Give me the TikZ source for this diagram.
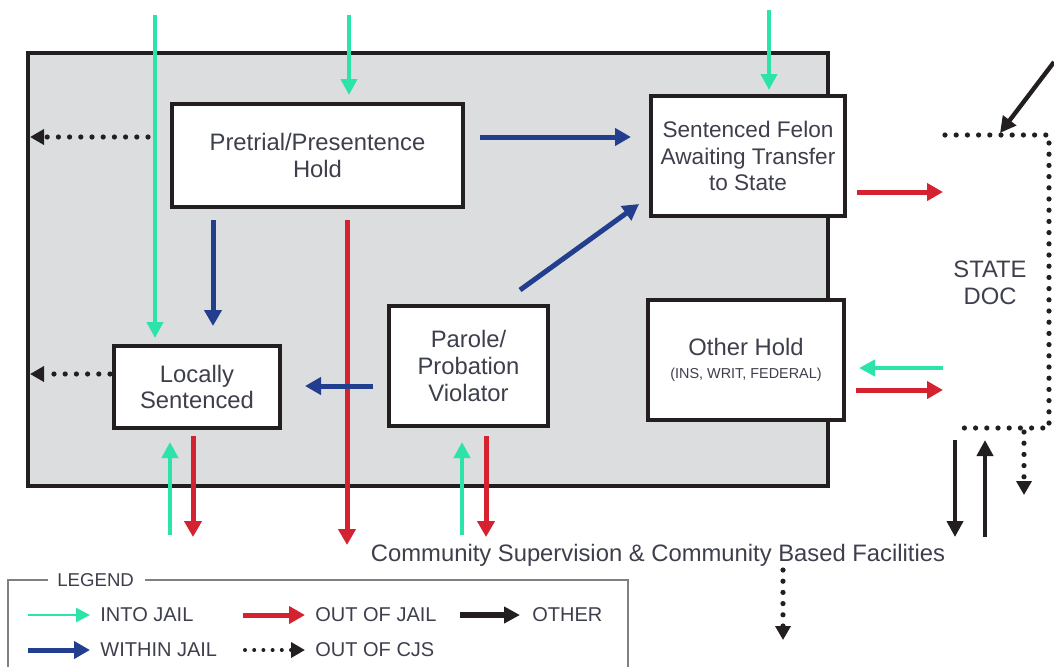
\documentclass[tikz,border=0pt]{standalone}
\usepackage{fontspec}
\setmainfont{Liberation Sans}
\usetikzlibrary{arrows.meta,calc,positioning}
\definecolor{jailgray}{HTML}{DCDDDF}
\definecolor{txtgray}{HTML}{3E3F4C}
\definecolor{cjgreen}{HTML}{2CE3A9}
\definecolor{cjred}{HTML}{D52230}
\definecolor{cjblue}{HTML}{213F8E}
\definecolor{cjblack}{HTML}{231F20}
\begin{document}
\begin{tikzpicture}[x=0.5pt,y=-0.5pt,
                    font=\fontsize{11.9}{13.4}\selectfont,
                    stage/.style={rectangle,draw=cjblack,fill=white,line width=2pt,align=center,text=txtgray,inner sep=0pt},
                    into/.style={draw=cjgreen,line width=2pt,-{Triangle[length=8pt,width=8pt]}},
                    outof/.style={draw=cjred,line width=2.5pt,-{Triangle[length=8pt,width=8.5pt]}},
                    within/.style={draw=cjblue,line width=2.5pt,-{Triangle[length=8pt,width=8.5pt]}},
                    otherflow/.style={draw=cjblack,line width=2.2pt,-{Triangle[length=8pt,width=8pt]}},
                    exitcjs/.style={draw=cjblack,line width=2.6pt,line cap=round,dash pattern=on 0pt off 5.6pt,
                                    -{Triangle[length=7pt,width=7.5pt,fill=cjblack]}},
                    legtext/.style={text=txtgray,font=\fontsize{10}{11}\selectfont,anchor=west,inner sep=0pt}]
\useasboundingbox (0,0) rectangle (1054,666);

% jail and its stages
\node[rectangle,draw=cjblack,fill=jailgray,line width=2pt,minimum width=400pt,minimum height=216.5pt] (jail) at (428,269.5) {};
\node[stage,minimum width=145.5pt,minimum height=51.5pt] (pre) at (317.5,155.5) {Pretrial/Presentence\\Hold};
\node[stage,minimum width=97pt,minimum height=60pt,font=\fontsize{11.3}{13.2}\selectfont] (felon) at (748,156) {Sentenced Felon\\Awaiting Transfer\\to State};
\node[stage,minimum width=83pt,minimum height=41pt] (local) at (197,387) {Locally\\Sentenced};
\node[stage,minimum width=79.5pt,minimum height=60pt] (parole) at (468.5,366) {Parole/\\Probation\\Violator};
\node[stage,minimum width=98pt,minimum height=60pt] (other) at (746,360) {Other Hold\\[-2pt]{\fontsize{7.2}{8}\selectfont(INS, WRIT, FEDERAL)}};

\node[text=txtgray,align=center] (doc) at (990,283) {STATE\\DOC};
\node[text=txtgray] (comm) at (658,555) {Community Supervision \& Community Based Facilities};

% state doc frame
\draw[exitcjs,-] (945,135) -- (1049,135) -- (1049,428) -- (955,428);

% free ends
\coordinate (inLocal) at (155,15);
\coordinate (inPre) at (349,15);
\coordinate (inFelon) at (769,10);
\coordinate (inOther) at (943,368);
\coordinate (upLocal) at (170,535);
\coordinate (upParole) at (462,535);
\coordinate (outFelon) at (943,192);
\coordinate (outOther) at (943,390);
\coordinate (downLocal) at (193,537);
\coordinate (downPre) at (347,545);
\coordinate (downParole) at (486,537);
\coordinate (pvOut) at (520,290);
\coordinate (exitPre) at (30,137);
\coordinate (exitLocal) at (30,374);
\coordinate (docDown) at (1024,495);
\coordinate (commDown) at (783,640);
\coordinate (docIn) at (1054,62);
\coordinate (blkDown) at (955,537);
\coordinate (blkUp) at (985,537);

% into jail
\draw[into,shorten >=3pt] (inLocal) -- (inLocal |- local.north);
\draw[into,shorten >=3.5pt] (inPre) -- (inPre |- pre.north);
\draw[into,shorten >=2pt] (inFelon) -- (inFelon |- felon.north);
\draw[into,shorten >=6.5pt] (inOther) -- (other.east |- inOther);
\draw[into,shorten >=6pt] (upLocal) -- (upLocal |- local.south);
\draw[into,shorten >=7pt] (upParole) -- (upParole |- parole.south);

% out of jail
\draw[outof,shorten <=5pt] (felon.east |- outFelon) -- (outFelon);
\draw[outof,shorten <=5pt] (other.east |- outOther) -- (outOther);
\draw[outof,shorten <=3pt] (downLocal |- local.south) -- (downLocal);
\draw[outof,shorten <=5.5pt] (downPre |- pre.south) -- (downPre);
\draw[outof,shorten <=4pt] (downParole |- parole.south) -- (downParole);

% within jail
\draw[within,shorten <=7.5pt,shorten >=9pt] (pre.east |- 0,137) -- (felon.west |- 0,137);
\draw[within,shorten <=5.5pt,shorten >=9pt] (213,0 |- pre.south) -- (213,0 |- local.north);
\draw[within,shorten <=7pt,shorten >=11.5pt] (parole.west |- 0,386) -- (local.east |- 0,386);
\draw[within] (pvOut) -- ($(felon.south west)+(-10,-14)$);

% out of cjs
\draw[exitcjs,shorten <=11pt] (pre.west |- exitPre) -- (exitPre);
\draw[exitcjs,shorten <=1pt] (local.west |- exitLocal) -- (exitLocal);
\draw[exitcjs] (1024,432) -- (docDown);
\draw[exitcjs] (783,570) -- (commDown);

% other
\draw[otherflow] (docIn) -- (1000,133);
\draw[otherflow] (955,440) -- (blkDown);
\draw[otherflow] (blkUp) -- (985,440);

% legend
\node[legtext,font=\fontsize{9.3}{10}\selectfont] (legend) at (57,580) {LEGEND};
\draw[draw=gray,line width=0.6pt] (48,580) -| (8,670);
\draw[draw=gray,line width=0.6pt] (145,580) -| (628,670);
\draw[into,line width=1.3pt,-{Triangle[length=7pt,width=7pt]}] (28,615) -- (90,615);
\node[legtext] (lgInto) at (100,615) {INTO JAIL};
\draw[outof] (243,615) -- (305,615);
\node[legtext] (lgOut) at (315,615) {OUT OF JAIL};
\draw[otherflow,line width=2.6pt] (460,615) -- (520,615);
\node[legtext] (lgOther) at (532,615) {OTHER};
\draw[within] (28,650) -- (90,650);
\node[legtext] (lgWithin) at (100,650) {WITHIN JAIL};
\draw[exitcjs,line width=2pt,dash pattern=on 0pt off 4.6pt] (245,650) -- (305,650);
\node[legtext] (lgExit) at (315,650) {OUT OF CJS};
\end{tikzpicture}
\end{document}
